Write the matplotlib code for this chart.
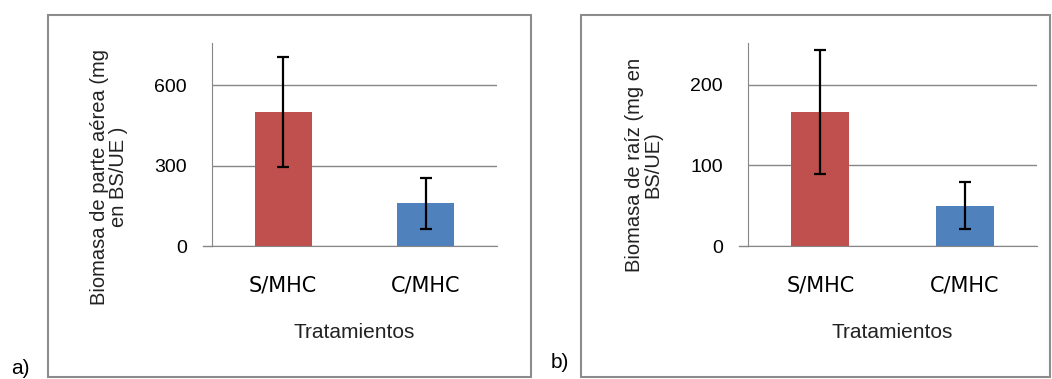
import matplotlib.pyplot as plt
from matplotlib.patches import Rectangle

# data
categories = ['S/MHC', 'C/MHC']
aerea = [500, 160]
aerea_err = [204, 95]
raiz = [166, 50]
raiz_err = [77, 29]

colors = ['#C0504D', '#4F81BD']
W, H = 1052, 379

plt.rcParams['font.family'] = ['Liberation Sans', 'DejaVu Sans']

fig = plt.figure(figsize=(W / 100, H / 100), dpi=100)


def px_box(x0, y0, x1, y1):
    # pixel box (top-left origin) -> figure fraction rect
    return [x0 / W, 1 - y1 / H, (x1 - x0) / W, (y1 - y0) / H]


# outer frames
for x0, x1 in [(48, 531), (581, 1050)]:
    fig.patches.append(Rectangle((x0 / W, 1 - 377 / H), (x1 - x0) / W, 362 / H,
                                 transform=fig.transFigure, fill=False,
                                 edgecolor='#8c8c8c', linewidth=1.5))

panels = [
    (px_box(212, 43, 497, 246), aerea, aerea_err, [0, 300, 600], 757,
     'Biomasa de parte aérea (mg\nen BS/UE )', 0.34),
    (px_box(748, 43, 1037, 246), raiz, raiz_err, [0, 100, 200], 252,
     'Biomasa de raíz (mg en\nBS/UE)', 0.40),
]

for rect, vals, errs, ticks, ymax, ylab, ly in panels:
    ax = fig.add_axes(rect)
    x = range(len(categories))
    ax.bar(x, vals, width=0.4, color=colors, zorder=2)
    ax.errorbar(x, vals, yerr=errs, fmt='none', ecolor='black',
                elinewidth=1.6, capsize=4, capthick=1.6, zorder=3)
    ax.set_xlim(-0.5, 1.5)
    ax.set_ylim(0, ymax)
    ax.set_yticks(ticks)
    ax.yaxis.grid(True, color='#868686', linewidth=1)
    ax.set_axisbelow(True)
    for s in ['top', 'right']:
        ax.spines[s].set_visible(False)
    ax.spines['left'].set_color('#868686')
    ax.spines['bottom'].set_color('#868686')
    # x axis line pokes out a little left of the y axis
    ax.plot([-0.56, -0.5], [0, 0], color='#868686', linewidth=1, clip_on=False)
    ax.tick_params(axis='y', length=0, pad=18, labelsize=14)
    ax.tick_params(axis='x', length=0, pad=21)
    ax.set_xticks(list(x))
    ax.set_xticklabels(categories, fontsize=15, family='DejaVu Sans')
    ax.set_xlabel('Tratamientos', fontsize=15, color='#222222', labelpad=20)
    ax.set_ylabel(ylab, fontsize=14.5, color='#222222', linespacing=1.0)
    ax.yaxis.set_label_coords(-0.295, ly)

fig.text(20 / W, 1 - 368 / H, 'a)', fontsize=15, ha='center', va='center')
fig.text(560 / W, 1 - 363 / H, 'b)', fontsize=15, ha='center', va='center')

fig.savefig('out.png', dpi=100)
